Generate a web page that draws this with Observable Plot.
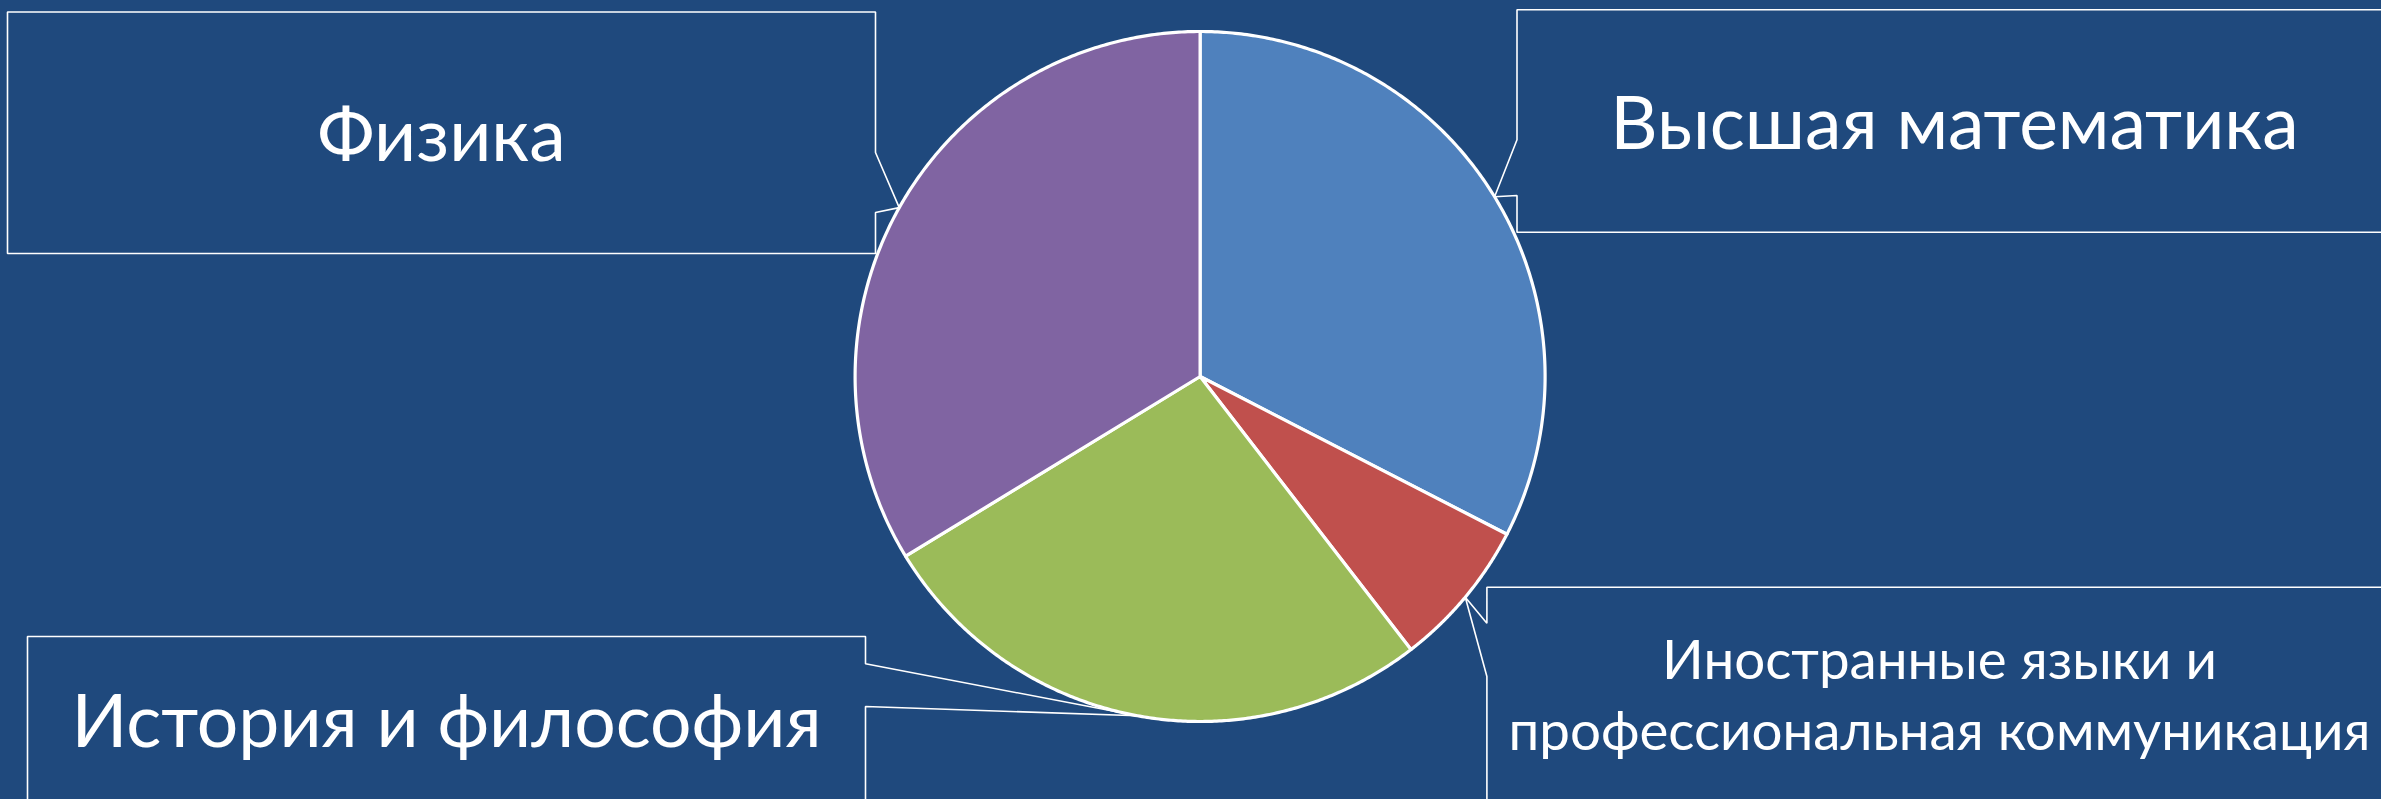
<!DOCTYPE html>
<html><head><meta charset="utf-8">
<script src="https://cdn.jsdelivr.net/npm/d3@7"></script>
<script src="https://cdn.jsdelivr.net/npm/@observablehq/plot@0.6"></script>
<style>
html,body{margin:0;padding:0;background:#1F497D;overflow:hidden}
</style></head><body>
<div id="chart"></div>
<script>
// ---- data ----
const categories = ["Высшая математика", "Иностранные языки и профессиональная коммуникация", "История и философия", "Физика"];
const values = [14, 3, 11.5, 14.5];
const labelLines = [["Высшая математика"], ["Иностранные языки и", "профессиональная коммуникация"], ["История и философия"], ["Физика"]];
const colors = ["#4F81BD", "#C0504D", "#9BBB59", "#8064A2"];

// ---- layout ----
const W = 2381, H = 799, BG = "#1F497D";
const FONT = "Lato";
const BIG = 73.3, SMALL = 54.7, SMALL_LH = 70.7;
const pieLayout = {cx: 1199.6, cy: 376, r: 345};
const boxes = [
  {side: "left",  x0: 1516.5, y0: 9.3,  x1: 2392, y1: 231.7, p0: 139.3, p1: 195, tx: 1954, ty: 148.3},
  {side: "left",  x0: 1486.4, y0: 586.7, x1: 2392, y1: 840, p0: 622.7, p1: 676, tx: 1939, ty: 749},
  {side: "right", x0: 27, y0: 636, x1: 865, y1: 840, p0: 663.3, p1: 706, tx: 446, ty: 746.7},
  {side: "right", x0: 7, y0: 11.5, x1: 875, y1: 253, p0: 152, p1: 212, tx: 441, ty: 160}
];

const data = categories.map((c, i) => ({cat: c, value: values[i], lines: labelLines[i]}));
const arcs = d3.pie().sort(null).value(d => d.value)(data);
const pt = (a, rr) => [pieLayout.cx + rr * Math.sin(a), pieLayout.cy - rr * Math.cos(a)];

const slicePts = [];
arcs.forEach(a => {
  slicePts.push({cat: a.data.cat, x: pieLayout.cx, y: pieLayout.cy});
  const N = 240;
  for (let k = 0; k <= N; k++) {
    const [x, y] = pt(a.startAngle + (a.endAngle - a.startAngle) * k / N, pieLayout.r);
    slicePts.push({cat: a.data.cat, x, y});
  }
});

const boxPts = [];
arcs.forEach((a, i) => {
  const b = boxes[i];
  const [tx, ty] = pt((a.startAngle + a.endAngle) / 2, pieLayout.r);
  let v;
  if (b.side === "right") v = [[b.x0,b.y0],[b.x1,b.y0],[b.x1,b.p0],[tx,ty],[b.x1,b.p1],[b.x1,b.y1],[b.x0,b.y1]];
  else v = [[b.x0,b.y0],[b.x1,b.y0],[b.x1,b.y1],[b.x0,b.y1],[b.x0,b.p1],[tx,ty],[b.x0,b.p0]];
  v.forEach(([x, y]) => boxPts.push({cat: a.data.cat, x, y}));
});

const labels = data.map((d, i) => ({text: d.lines.join("\n"), n: d.lines.length, x: boxes[i].tx, y: boxes[i].ty}));

const chart = Plot.plot({
  width: W, height: H, margin: 0,
  x: {domain: [0, W], range: [0, W], axis: null},
  y: {domain: [0, H], range: [0, H], axis: null},
  color: {domain: categories, range: colors},
  style: {background: BG, fontFamily: FONT, overflow: "hidden"},
  marks: [
    Plot.line(boxPts, {x: "x", y: "y", z: "cat", curve: "linear-closed", fill: BG, stroke: "white", strokeWidth: 1.6, strokeLinejoin: "miter"}),
    Plot.line(slicePts, {x: "x", y: "y", z: "cat", curve: "linear-closed", fill: "cat", stroke: "white", strokeWidth: 3.2, strokeLinejoin: "round"}),
    Plot.text(labels.filter(d => d.n === 1), {x: "x", y: "y", text: "text", fontSize: BIG, lineAnchor: "bottom", fill: "white", textAnchor: "middle"}),
    Plot.text(labels.filter(d => d.n > 1), {x: "x", y: "y", text: "text", fontSize: SMALL, lineHeight: SMALL_LH / SMALL, lineAnchor: "bottom", fill: "white", textAnchor: "middle"})
  ]
});
document.getElementById("chart").appendChild(chart);
</script>
</body></html>
